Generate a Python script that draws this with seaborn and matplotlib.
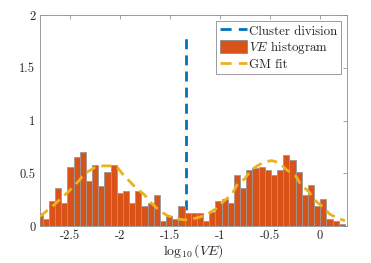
import numpy as np
import pandas as pd
import matplotlib
matplotlib.use("Agg")
import matplotlib.pyplot as plt
import seaborn as sns
from matplotlib.lines import Line2D
from matplotlib.patches import Patch

# histogram of log10(VE), pdf-normalised, 50 bins
bin_start = -2.835
bin_width = 0.0617
hist_heights = [0.12, 0.07, 0.24, 0.36, 0.22, 0.556, 0.65, 0.70, 0.43, 0.58,
                0.38, 0.51, 0.58, 0.316, 0.335, 0.22, 0.335, 0.19, 0.22, 0.29,
                0.05, 0.095, 0.07, 0.19, 0.12, 0.12, 0.12, 0.05, 0.135, 0.24,
                0.26, 0.218, 0.483, 0.36, 0.53, 0.547, 0.556, 0.53, 0.483, 0.53,
                0.673, 0.626, 0.51, 0.29, 0.386, 0.19, 0.26, 0.07, 0.047, 0.02]

# Gaussian mixture fit
gm_x = [-2.80, -2.75, -2.66, -2.57, -2.51, -2.41, -2.35, -2.25, -2.17, -2.10,
        -2.03, -1.98, -1.91, -1.84, -1.76, -1.70, -1.61, -1.53, -1.43, -1.35,
        -1.28, -1.20, -1.13, -1.03, -0.97, -0.88, -0.83, -0.75, -0.69, -0.61,
        -0.55, -0.48, -0.41, -0.33, -0.24, -0.19, -0.11, -0.06, 0.03, 0.10,
        0.20, 0.25]
gm_y = [0.09, 0.13, 0.20, 0.28, 0.33, 0.43, 0.50, 0.555, 0.57, 0.57,
        0.56, 0.50, 0.43, 0.36, 0.30, 0.23, 0.15, 0.10, 0.068, 0.057,
        0.066, 0.085, 0.11, 0.17, 0.23, 0.30, 0.39, 0.45, 0.53, 0.58,
        0.61, 0.62, 0.60, 0.53, 0.47, 0.39, 0.325, 0.25, 0.18, 0.11,
        0.066, 0.05]

cluster_x = -1.34
cluster_top = 1.8

x_ticks = [-2.5, -2, -1.5, -1, -0.5, 0]
x_tick_labels = ["-2.5", "-2", "-1.5", "-1", "-0.5", "0"]
y_ticks = [0, 0.5, 1, 1.5, 2]
y_tick_labels = ["0", "0.5", "1", "1.5", "2"]

blue = "#0072BD"
orange = "#D95319"
yellow = "#EDB120"

sns.set_style("white")
plt.rcParams["font.family"] = ["cmr10", "DejaVu Serif"]
plt.rcParams["mathtext.fontset"] = "cm"
plt.rcParams["axes.formatter.use_mathtext"] = True

edges = [bin_start + bin_width * i for i in range(len(hist_heights) + 1)]
hist_df = pd.DataFrame({"center": [(a + b) / 2 for a, b in zip(edges[:-1], edges[1:])],
                        "height": hist_heights})

fig = plt.figure(figsize=(3.71, 2.63), dpi=100)
ax = fig.add_axes([0.1065, 0.1407, 0.828, 0.802])

dash = (3.6, 2.2)
ax.plot([cluster_x, cluster_x], [0, cluster_top], color=blue, lw=2,
        dashes=dash, zorder=1)

sns.histplot(data=hist_df, x="center", weights="height", bins=edges,
             stat="count", color=orange, alpha=1, edgecolor="#999999",
             linewidth=0.6, ax=ax, zorder=2)

sns.lineplot(x=gm_x, y=gm_y, sort=False, color=yellow, lw=2, ax=ax, zorder=3)
ax.lines[-1].set_dashes(dash)

ax.set_xlim(-2.805, 0.267)
ax.set_ylim(0, 2)
ax.set_xticks(x_ticks)
ax.set_xticklabels(x_tick_labels)
ax.set_yticks(y_ticks)
ax.set_yticklabels(y_tick_labels)
ax.set_ylabel("")
ax.set_xlabel(r"$\log_{10}(VE)$", fontsize=10, labelpad=0, color="#262626")
ax.tick_params(direction="in", length=3, width=0.5, top=True, right=True,
               labelsize=9, pad=3, colors="#262626", color="#808080")
for s in ax.spines.values():
    s.set_color("#8c8c8c")
    s.set_linewidth(0.6)

handles = [Line2D([0], [0], color=blue, lw=2, dashes=(4.0, 2.6)),
           Patch(facecolor=orange, edgecolor="#8a8a8a", linewidth=0.6),
           Line2D([0], [0], color=yellow, lw=2, dashes=(4.0, 2.6))]
labels = ["Cluster division", r"$VE$ histogram", "GM fit"]
leg = ax.legend(handles, labels, loc="upper right", fontsize=9.3,
                frameon=True, fancybox=False, framealpha=1,
                edgecolor="#8c8c8c", borderaxespad=0.45, borderpad=0.25,
                handlelength=2.1, handleheight=1.1, handletextpad=0.2,
                labelspacing=0.1)
leg.get_frame().set_linewidth(0.6)

fig.savefig("out.png", dpi=100)
